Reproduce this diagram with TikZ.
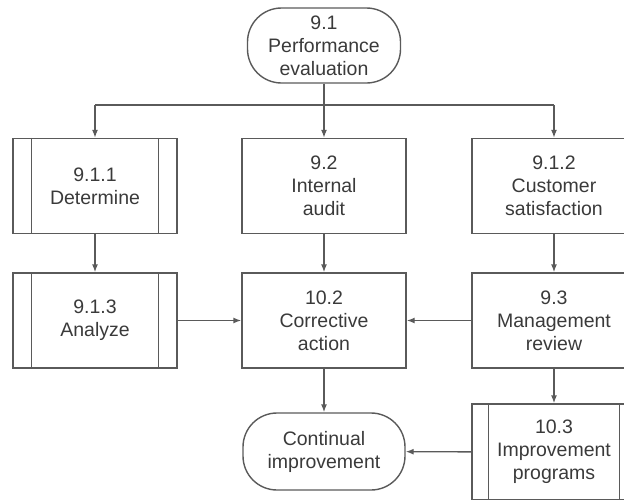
\documentclass[tikz,border=0pt]{standalone}
\usepackage{fontspec}
\setmainfont{Liberation Sans}
\usetikzlibrary{arrows.meta}
\definecolor{linegray}{HTML}{5A5A5A}
\definecolor{textgray}{HTML}{3A3A3A}
\tikzset{
  base/.style={draw=linegray, line width=1.4pt, align=center, text=textgray,
    font=\fontsize{19.5pt}{23pt}\selectfont, inner sep=0pt},
  procbox/.style={base, rectangle, minimum width=164pt, minimum height=95pt},
  terminal/.style={base, rectangle, rounded corners=34pt},
  arr/.style={draw=linegray, line width=1.4pt, -{Latex[length=8pt,width=6pt]}},
  plain/.style={draw=linegray, line width=1.4pt},
}
% predefined-process box: rectangle with an inner bar near each side
\newcommand{\sidebars}[2]{%
  \draw[plain] ([xshift=#2]#1.north west) -- ([xshift=#2]#1.south west);
  \draw[plain] ([xshift=-#2]#1.north east) -- ([xshift=-#2]#1.south east);}
\begin{document}
\begin{tikzpicture}[x=1pt,y=-1pt]
  \useasboundingbox (0,0) rectangle (624,499);
  \clip (0,0) rectangle (624,499);

  \node[terminal, minimum width=153pt, minimum height=75pt] (pe) at (324,45.5)
    {9.1\\Performance\\evaluation};

  \node[procbox] (det) at (95,186) {9.1.1\\Determine};
  \node[procbox] (ia)  at (324,186) {9.2\\Internal\\audit};
  \node[procbox] (cs)  at (554,186) {9.1.2\\Customer\\satisfaction};

  \node[procbox] (an)  at (95,320.5) {9.1.3\\Analyze};
  \node[procbox] (ca)  at (324,320.5) {10.2\\Corrective\\action};
  \node[procbox] (mr)  at (554,320.5) {9.3\\Management\\review};

  \node[terminal, minimum width=162pt, minimum height=77pt] (ci) at (324,451.5)
    {Continual\\improvement};
  \node[procbox, minimum height=96pt] (ip) at (554,452) {10.3\\Improvement\\programs};

  \sidebars{det}{19pt}
  \sidebars{an}{19pt}
  \sidebars{ip}{17pt}

  % distribution from 9.1
  \coordinate (split) at (pe.south |- 0,105);
  \draw[plain] (det.north |- split) -- (cs.north |- split);
  \draw[arr] (pe.south) -- (pe.south |- ia.north);
  \draw[arr] (det.north |- split) -- (det.north);
  \draw[arr] (cs.north |- split) -- (cs.north);

  % vertical flows
  \draw[arr] (det) -- (an);
  \draw[arr] (ia) -- (ca);
  \draw[arr] (cs) -- (mr);
  \draw[arr] (ca) -- (ci);
  \draw[arr] (mr) -- (ip);

  % horizontal flows
  \draw[arr] (an) -- (ca);
  \draw[arr] (mr) -- (ca);
  \draw[arr] (ip) -- (ci);
\end{tikzpicture}
\end{document}
